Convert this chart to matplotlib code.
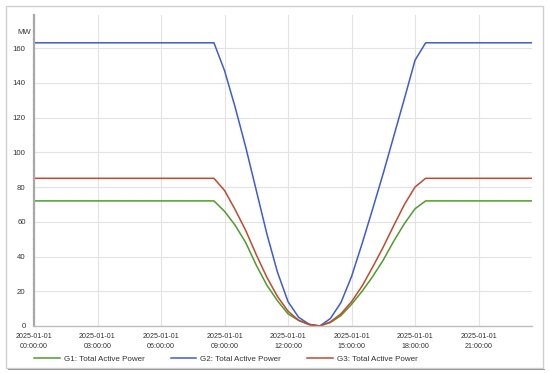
import numpy as np
import pandas as pd
import matplotlib
matplotlib.use("Agg")
import matplotlib.pyplot as plt
import matplotlib.dates as mdates
from matplotlib.patches import Rectangle

plt.rcParams["font.family"] = ["Liberation Sans", "DejaVu Sans"]

# half-hourly timestamps, 2025-01-01 00:00 .. 23:30
times = pd.date_range("2025-01-01 00:00:00", periods=48, freq="30min")

g1 = [72, 72, 72, 72, 72, 72, 72, 72, 72, 72, 72, 72, 72, 72, 72, 72, 72, 72,
      66, 58, 48, 35, 23.5, 14.5, 7, 3.2, 0.8, 0,
      2, 6, 12.5, 20, 28.5, 38, 49, 59, 67.5,
      72, 72, 72, 72, 72, 72, 72, 72, 72, 72, 72]
g2 = [163, 163, 163, 163, 163, 163, 163, 163, 163, 163, 163, 163, 163, 163, 163, 163, 163, 163,
      147, 126, 103, 78, 53, 31, 14, 5, 1, 0,
      4.3, 13.5, 28.5, 47.5, 67.5, 88, 109.5, 131, 153,
      163, 163, 163, 163, 163, 163, 163, 163, 163, 163, 163]
g3 = [85, 85, 85, 85, 85, 85, 85, 85, 85, 85, 85, 85, 85, 85, 85, 85, 85, 85,
      78, 67, 55, 41, 28, 17, 8.5, 3.3, 0.8, 0,
      2.4, 7, 14, 23, 34, 45.5, 58, 70, 80,
      85, 85, 85, 85, 85, 85, 85, 85, 85, 85, 85]

series_labels = ["G1: Total Active Power", "G2: Total Active Power", "G3: Total Active Power"]
colors = ["#4f9b2c", "#3f5ccc", "#bf4a30"]

fig = plt.figure(figsize=(5.5, 3.73), dpi=100)

# outer frame with a little shadow
fig.patches.append(Rectangle((6 / 550, 5 / 373), 537 / 550, 362 / 373, transform=fig.transFigure,
                             facecolor="none", edgecolor="#cfcfcf", linewidth=1.0, zorder=0))
fig.patches.append(Rectangle((8 / 550, 3 / 373), 537 / 550, 1.5 / 373, transform=fig.transFigure,
                             facecolor="#9a9a9a", edgecolor="none", zorder=0))

ax = fig.add_axes([34 / 550, 47 / 373, 497.5 / 550, 311 / 373])

for vals, lab, c in zip([g1, g2, g3], series_labels, colors):
    ax.plot(times, vals, color=c, linewidth=1.1, label=lab)

ax.set_xlim(times[0], times[-1])
ax.set_ylim(0, 179)
ax.set_yticks(np.arange(0, 161, 20))
ax.set_yticks(np.arange(0, 176, 5), minor=True)

ax.xaxis.set_major_locator(mdates.HourLocator(byhour=range(0, 24, 3)))
ax.xaxis.set_major_formatter(mdates.DateFormatter("%Y-%m-%d\n%H:%M:%S"))

ax.grid(True, which="major", color="#e3e3e3", linewidth=0.8)
ax.set_axisbelow(True)
for s in ["top", "right"]:
    ax.spines[s].set_visible(False)
ax.spines["left"].set_color("#a8a8a8")
ax.spines["left"].set_linewidth(1.6)
ax.spines["bottom"].set_color("#bdbdbd")
ax.spines["bottom"].set_linewidth(1.0)

ax.tick_params(axis="x", length=0, labelsize=5.1, labelcolor="#333333", pad=5)
ax.tick_params(axis="y", which="major", length=0, labelsize=5.6, labelcolor="#333333", pad=6)
ax.tick_params(axis="y", which="minor", length=1.5, color="#d0d0d0", width=0.4)
for t in ax.get_xticklabels():
    t.set_linespacing(1.7)

ax.text(-0.034, 0.945, "MW", transform=ax.transAxes, fontsize=5.6, color="#333333",
        ha="left", va="center")

fig.legend(loc="center left", bbox_to_anchor=(27 / 550, 14 / 373), ncol=3, frameon=False,
           fontsize=5.8, handlelength=3.2, columnspacing=3.2, handletextpad=0.5,
           labelcolor="#333333")

fig.savefig("out.png", dpi=100)
